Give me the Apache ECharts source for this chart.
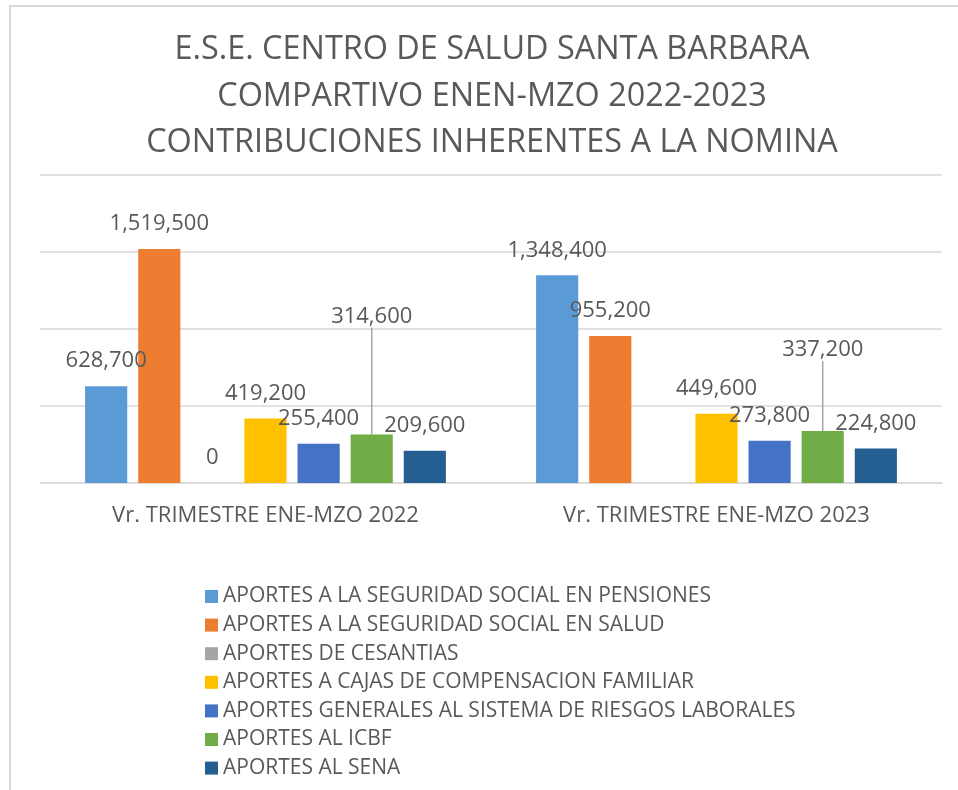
<!DOCTYPE html>
<html>
<head>
<meta charset="utf-8">
<script src="https://cdn.jsdelivr.net/npm/echarts@6/dist/echarts.min.js"></script>
<style>
  html, body { margin: 0; padding: 0; background: #fff; overflow: hidden; }
  #chart { position: absolute; left: 0; top: 0; width: 958px; height: 790px; }
  .frame {
    position: absolute; left: 9px; top: 5px; width: 960px; height: 800px;
    border-left: 2px solid #d9d9d9; border-top: 2px solid #d9d9d9;
    pointer-events: none;
  }
</style>
</head>
<body>
<div class="frame"></div>
<div id="chart"></div>
<script>
const titleLines = [
  'E.S.E. CENTRO DE SALUD SANTA BARBARA',
  'COMPARTIVO ENEN-MZO 2022-2023',
  'CONTRIBUCIONES INHERENTES A LA NOMINA'
]
const categories = ['Vr. TRIMESTRE ENE-MZO 2022', 'Vr. TRIMESTRE ENE-MZO 2023']
const seriesNames = [
  'APORTES A LA SEGURIDAD SOCIAL EN PENSIONES',
  'APORTES A LA SEGURIDAD SOCIAL EN SALUD',
  'APORTES DE CESANTIAS',
  'APORTES A CAJAS DE COMPENSACION FAMILIAR',
  'APORTES GENERALES AL SISTEMA DE RIESGOS LABORALES',
  'APORTES AL ICBF',
  'APORTES AL SENA'
]
const pensiones = [628700, 1348400]
const salud = [1519500, 955200]
const cesantias = [0, null]
const cajas = [419200, 449600]
const riesgos = [255400, 273800]
const icbf = [314600, 337200]
const sena = [209600, 224800]
const colors = ['#5B9BD5', '#ED7D31', '#A5A5A5', '#FFC000', '#4472C4', '#70AD47', '#255E91']

const chart = echarts.init(document.getElementById('chart'))
const fontFamily = '"Open Sans", sans-serif'
const textColor = '#595959'

const makeSeries = (name, data, idx) => {
  const s = {
    name: name,
    type: 'bar',
    data: data,
    barGap: '26%',
    barCategoryGap: '20%',
    itemStyle: { color: colors[idx] },
    label: {
      show: true,
      position: 'top',
      distance: 14,
      color: textColor,
      fontFamily: fontFamily,
      fontSize: 22,
      formatter: p => p.value == null ? '' : Number(p.value).toLocaleString('en-US')
    }
  }
  // ICBF labels sit higher with a leader line
  if (idx === 5) {
    s.labelLayout = p => ({ dy: p.dataIndex === 0 ? -93 : -56 })
    s.labelLine = { show: true, lineStyle: { color: '#a6a6a6', width: 1.5 } }
  }
  return s
}

chart.setOption({
  backgroundColor: 'transparent',
  color: colors,
  animation: false,
  title: {
    text: titleLines.join('\n'),
    left: 487,
    textAlign: 'center',
    top: 22,
    textStyle: {
      color: textColor,
      fontFamily: fontFamily,
      fontWeight: 'normal',
      fontSize: 32.4,
      lineHeight: 46.5
    }
  },
  legend: {
    orient: 'vertical',
    left: 200,
    top: 581,
    itemWidth: 13,
    itemHeight: 13,
    itemGap: 7.6,
    icon: 'rect',
    data: seriesNames,
    textStyle: { color: textColor, fontFamily: fontFamily, fontSize: 21, lineHeight: 21 }
  },
  grid: { left: 40, right: 16, top: 175, bottom: 307 },
  xAxis: {
    type: 'category',
    data: categories,
    axisLine: { lineStyle: { color: '#d9d9d9', width: 1.5 } },
    axisTick: { show: false },
    axisLabel: { color: textColor, fontFamily: fontFamily, fontSize: 22, margin: 22 }
  },
  yAxis: {
    type: 'value',
    min: 0,
    max: 2000000,
    interval: 500000,
    axisLabel: { show: false },
    axisLine: { show: false },
    axisTick: { show: false },
    splitLine: { lineStyle: { color: '#d9d9d9', width: 1.5 } }
  },
  series: [
    makeSeries(seriesNames[0], pensiones, 0),
    makeSeries(seriesNames[1], salud, 1),
    makeSeries(seriesNames[2], cesantias, 2),
    makeSeries(seriesNames[3], cajas, 3),
    makeSeries(seriesNames[4], riesgos, 4),
    makeSeries(seriesNames[5], icbf, 5),
    makeSeries(seriesNames[6], sena, 6)
  ]
})
</script>
</body>
</html>
